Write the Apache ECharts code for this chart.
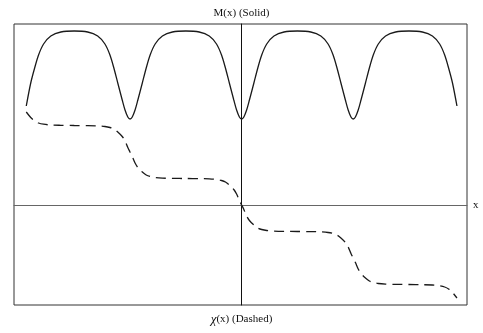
<!DOCTYPE html>
<html>
<head>
<meta charset="utf-8">
<script src="https://cdn.jsdelivr.net/npm/echarts@6/dist/echarts.min.js"></script>
<style>
  html, body { margin: 0; padding: 0; background: #fff; }
  #chart { width: 483px; height: 333px; }
</style>
</head>
<body>
<div id="chart"></div>
<script>
// sample positions (dips of M at -1, 0, 1)
var xs = [
  -1.93, -1.89, -1.855, -1.82, -1.775, -1.71, -1.62, -1.5,
  -1.38, -1.29, -1.225, -1.18, -1.145, -1.11, -1.07, -1.045, -1.02, -1,
  -0.98, -0.955, -0.93, -0.89, -0.855, -0.82, -0.775, -0.71, -0.62, -0.5,
  -0.38, -0.29, -0.225, -0.18, -0.145, -0.11, -0.07, -0.045, -0.02, 0,
  0.02, 0.045, 0.07, 0.11, 0.145, 0.18, 0.225, 0.29, 0.38, 0.5,
  0.62, 0.71, 0.775, 0.82, 0.855, 0.89, 0.93, 0.955, 0.98, 1,
  1.02, 1.045, 1.07, 1.11, 1.145, 1.18, 1.225, 1.29, 1.38, 1.5,
  1.62, 1.71, 1.775, 1.82, 1.855, 1.89, 1.93
];

// M(x), solid
var mVals = [
  0.99, 1.22, 1.37, 1.50, 1.61, 1.69, 1.73, 1.74,
  1.73, 1.69, 1.61, 1.50, 1.37, 1.22, 1.05, 0.95, 0.88, 0.86,
  0.88, 0.95, 1.05, 1.22, 1.37, 1.50, 1.61, 1.69, 1.73, 1.74,
  1.73, 1.69, 1.61, 1.50, 1.37, 1.22, 1.05, 0.95, 0.88, 0.86,
  0.88, 0.95, 1.05, 1.22, 1.37, 1.50, 1.61, 1.69, 1.73, 1.74,
  1.73, 1.69, 1.61, 1.50, 1.37, 1.22, 1.05, 0.95, 0.88, 0.86,
  0.88, 0.95, 1.05, 1.22, 1.37, 1.50, 1.61, 1.69, 1.73, 1.74,
  1.73, 1.69, 1.61, 1.50, 1.37, 1.22, 0.99
];

// chi(x), dashed
var chiVals = [
  0.93, 0.875, 0.84, 0.82, 0.808, 0.80, 0.797, 0.795,
  0.794, 0.791, 0.785, 0.775, 0.76, 0.73, 0.685, 0.64, 0.575, 0.53,
  0.485, 0.42, 0.375, 0.33, 0.30, 0.285, 0.275, 0.269, 0.266, 0.265,
  0.264, 0.261, 0.255, 0.245, 0.23, 0.20, 0.155, 0.11, 0.045, 0,
  -0.045, -0.11, -0.155, -0.20, -0.23, -0.245, -0.255, -0.261, -0.264, -0.265,
  -0.266, -0.269, -0.275, -0.285, -0.30, -0.33, -0.375, -0.42, -0.485, -0.53,
  -0.575, -0.64, -0.685, -0.73, -0.76, -0.775, -0.785, -0.791, -0.794, -0.795,
  -0.797, -0.80, -0.808, -0.82, -0.84, -0.875, -0.93
];

var chart = echarts.init(document.getElementById('chart'));
var serif = 'Liberation Serif';

function pairs(ys) {
  return xs.map(function (x, i) { return [x, ys[i]]; });
}

var option = {
  animation: false,
  title: [
    {
      text: 'M(x) (Solid)',
      left: 'center',
      top: 3,
      textStyle: { fontFamily: serif, fontWeight: 'normal', fontSize: 11, color: '#111' }
    },
    {
      text: '{i|χ}(x) (Dashed)',
      left: 'center',
      top: 308,
      textStyle: {
        fontFamily: serif, fontWeight: 'normal', fontSize: 11, color: '#111',
        rich: { i: { fontFamily: serif, fontStyle: 'italic', fontSize: 13, color: '#111' } }
      }
    }
  ],
  grid: {
    left: 14, top: 24, width: 453, height: 281,
    show: true, borderColor: '#333', borderWidth: 1
  },
  xAxis: {
    type: 'value', min: -2.04, max: 2.02,
    name: 'x', nameLocation: 'end', nameGap: 6,
    nameTextStyle: { fontFamily: serif, fontSize: 11, color: '#111' },
    axisLine: { onZero: true, lineStyle: { color: '#666', width: 1 } },
    axisTick: { show: false }, axisLabel: { show: false }, splitLine: { show: false }
  },
  yAxis: {
    type: 'value', min: -1.0, max: 1.81,
    axisLine: { onZero: true, lineStyle: { color: '#111', width: 1 } },
    axisTick: { show: false }, axisLabel: { show: false }, splitLine: { show: false }
  },
  series: [
    {
      name: 'M', type: 'line', data: pairs(mVals), symbol: 'none', smooth: 0.3,
      lineStyle: { color: '#1a1a1a', width: 1.3 }
    },
    {
      name: 'chi', type: 'line', data: pairs(chiVals), symbol: 'none', smooth: 0.3,
      lineStyle: { color: '#1a1a1a', width: 1.3, type: [10, 6] }
    }
  ]
};
chart.setOption(option);
</script>
</body>
</html>
